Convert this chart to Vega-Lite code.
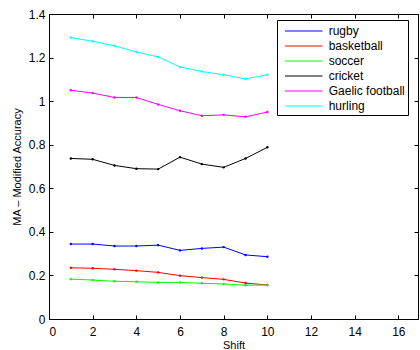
{
  "$schema": "https://vega.github.io/schema/vega-lite/v6.json",
  "autosize": "none",
  "width": 369,
  "height": 305,
  "padding": {"left": 49, "top": 14, "right": 2, "bottom": 31},
  "background": "white",
  "config": {
    "font": "Liberation Sans",
    "view": {"stroke": "black", "strokeWidth": 1},
    "axis": {
      "domain": false,
      "grid": false,
      "tickColor": "black",
      "tickSize": -4,
      "labelFont": "Liberation Sans",
      "labelFontSize": 12,
      "labelColor": "black",
      "titleFont": "Liberation Sans",
      "titleFontSize": 11,
      "titleFontWeight": "normal",
      "titleColor": "black"
    }
  },
  "data": {
    "values": [
      {"shift": 1, "sport": "hurling", "v": 1.292},
      {"shift": 2, "sport": "hurling", "v": 1.275},
      {"shift": 3, "sport": "hurling", "v": 1.254},
      {"shift": 4, "sport": "hurling", "v": 1.226},
      {"shift": 5, "sport": "hurling", "v": 1.203},
      {"shift": 6, "sport": "hurling", "v": 1.157},
      {"shift": 7, "sport": "hurling", "v": 1.136},
      {"shift": 8, "sport": "hurling", "v": 1.121},
      {"shift": 9, "sport": "hurling", "v": 1.102},
      {"shift": 10, "sport": "hurling", "v": 1.121},
      {"shift": 1, "sport": "Gaelic football", "v": 1.050},
      {"shift": 2, "sport": "Gaelic football", "v": 1.037},
      {"shift": 3, "sport": "Gaelic football", "v": 1.017},
      {"shift": 4, "sport": "Gaelic football", "v": 1.017},
      {"shift": 5, "sport": "Gaelic football", "v": 0.985},
      {"shift": 6, "sport": "Gaelic football", "v": 0.956},
      {"shift": 7, "sport": "Gaelic football", "v": 0.933},
      {"shift": 8, "sport": "Gaelic football", "v": 0.937},
      {"shift": 9, "sport": "Gaelic football", "v": 0.928},
      {"shift": 10, "sport": "Gaelic football", "v": 0.950},
      {"shift": 1, "sport": "cricket", "v": 0.737},
      {"shift": 2, "sport": "cricket", "v": 0.733},
      {"shift": 3, "sport": "cricket", "v": 0.705},
      {"shift": 4, "sport": "cricket", "v": 0.690},
      {"shift": 5, "sport": "cricket", "v": 0.688},
      {"shift": 6, "sport": "cricket", "v": 0.743},
      {"shift": 7, "sport": "cricket", "v": 0.711},
      {"shift": 8, "sport": "cricket", "v": 0.696},
      {"shift": 9, "sport": "cricket", "v": 0.737},
      {"shift": 10, "sport": "cricket", "v": 0.788},
      {"shift": 1, "sport": "rugby", "v": 0.344},
      {"shift": 2, "sport": "rugby", "v": 0.344},
      {"shift": 3, "sport": "rugby", "v": 0.335},
      {"shift": 4, "sport": "rugby", "v": 0.335},
      {"shift": 5, "sport": "rugby", "v": 0.339},
      {"shift": 6, "sport": "rugby", "v": 0.315},
      {"shift": 7, "sport": "rugby", "v": 0.324},
      {"shift": 8, "sport": "rugby", "v": 0.330},
      {"shift": 9, "sport": "rugby", "v": 0.294},
      {"shift": 10, "sport": "rugby", "v": 0.286},
      {"shift": 1, "sport": "basketball", "v": 0.235},
      {"shift": 2, "sport": "basketball", "v": 0.233},
      {"shift": 3, "sport": "basketball", "v": 0.228},
      {"shift": 4, "sport": "basketball", "v": 0.222},
      {"shift": 5, "sport": "basketball", "v": 0.214},
      {"shift": 6, "sport": "basketball", "v": 0.199},
      {"shift": 7, "sport": "basketball", "v": 0.190},
      {"shift": 8, "sport": "basketball", "v": 0.182},
      {"shift": 9, "sport": "basketball", "v": 0.165},
      {"shift": 10, "sport": "basketball", "v": 0.156},
      {"shift": 1, "sport": "soccer", "v": 0.183},
      {"shift": 2, "sport": "soccer", "v": 0.179},
      {"shift": 3, "sport": "soccer", "v": 0.173},
      {"shift": 4, "sport": "soccer", "v": 0.171},
      {"shift": 5, "sport": "soccer", "v": 0.168},
      {"shift": 6, "sport": "soccer", "v": 0.168},
      {"shift": 7, "sport": "soccer", "v": 0.164},
      {"shift": 8, "sport": "soccer", "v": 0.161},
      {"shift": 9, "sport": "soccer", "v": 0.155},
      {"shift": 10, "sport": "soccer", "v": 0.156}
    ]
  },
  "layer": [
    {
      "mark": {"type": "line", "strokeWidth": 1, "point": {"filled": true, "size": 6}},
      "encoding": {
        "x": {
          "field": "shift", "type": "quantitative",
          "scale": {"domain": [0, 16.9], "nice": false},
          "axis": {"values": [0, 2, 4, 6, 8, 10, 12, 14, 16], "title": "Shift", "labelPadding": 11, "titlePadding": 2}
        },
        "y": {
          "field": "v", "type": "quantitative",
          "scale": {"domain": [0, 1.4], "nice": false},
          "axis": {"values": [0, 0.2, 0.4, 0.6, 0.8, 1, 1.2, 1.4], "format": "~g", "title": "MA – Modified Accuracy", "labelPadding": 8, "titlePadding": 6}
        },
        "color": {
          "field": "sport", "type": "nominal",
          "scale": {
            "domain": ["rugby", "basketball", "soccer", "cricket", "Gaelic football", "hurling"],
            "range": ["#0000ff", "#ff0000", "#00ff00", "#000000", "#ff00ff", "#00ffff"]
          },
          "legend": {
            "title": null,
            "orient": "none",
            "legendX": 228,
            "legendY": 6,
            "symbolType": "M-0.4,0H4.6",
            "symbolSize": 225,
            "symbolStrokeWidth": 1,
            "labelFontSize": 12,
            "labelFont": "Liberation Sans",
            "labelColor": "black",
            "labelOffset": 32.7,
            "rowPadding": 1,
            "strokeColor": "black",
            "fillColor": "white",
            "padding": 3,
            "cornerRadius": 0
          }
        }
      }
    },
    {
      "mark": {"type": "point", "opacity": 0},
      "encoding": {
        "x": {
          "field": "shift", "type": "quantitative",
          "axis": {"orient": "top", "values": [0, 2, 4, 6, 8, 10, 12, 14, 16], "labels": false, "title": null}
        },
        "y": {
          "field": "v", "type": "quantitative",
          "axis": {"orient": "right", "values": [0, 0.2, 0.4, 0.6, 0.8, 1, 1.2, 1.4], "labels": false, "title": null}
        }
      }
    }
  ],
  "resolve": {"axis": {"x": "independent", "y": "independent"}}
}
